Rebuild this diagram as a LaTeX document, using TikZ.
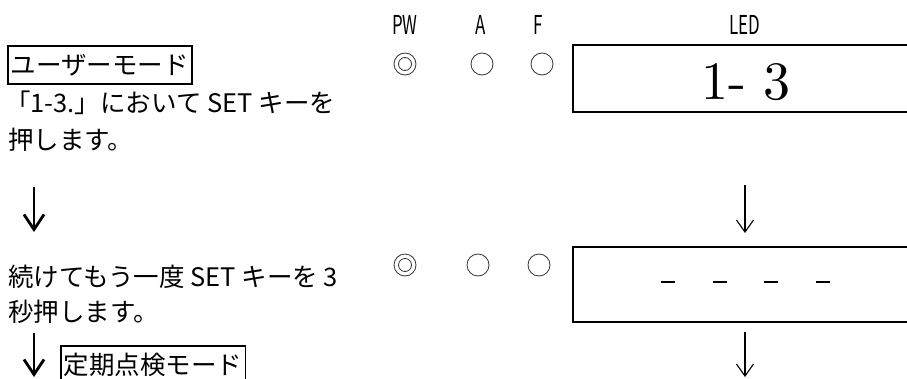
\documentclass[tikz,border=0pt]{standalone}
\usepackage{fontspec}
\setmainfont{Noto Sans CJK JP}
\newfontfamily\narrowfont[FakeStretch=0.65]{Noto Sans CJK JP}
\newfontfamily\ledfont{lmroman10-regular}[Extension=.otf]
\usetikzlibrary{arrows.meta}
\tikzset{
	txt/.style={anchor=west,inner sep=0pt,font=\fontsize{25.5}{30}\selectfont},
	modebox/.style={txt,draw,line width=1.8pt,inner xsep=3pt,minimum height=38pt},
	lbl/.style={inner sep=0pt,font=\narrowfont\fontsize{26}{30}\selectfont},
	lamp/.style={circle,draw=black!80,line width=0.8pt,minimum size=22pt,inner sep=0pt},
	ledbox/.style={draw,line width=2pt,anchor=north west,minimum width=380pt,inner sep=0pt},
	bigarrow/.style={line width=2.8pt,-{Straight Barb[length=15pt,width=20pt]}},
	thinarrow/.style={line width=1.1pt,-{Straight Barb[length=12pt,width=17pt]}}
}
\begin{document}
\begin{tikzpicture}[x=1pt,y=-1pt]
				\clip (0,0) rectangle (907,378);
				% headings
				\node[lbl] (hpw) at (405,25) {PW};
				\node[lbl] (ha) at (481,25) {A};
				\node[lbl] (hf) at (538,25) {F};
				\node[lbl] (hled) at (745,25) {LED};
				% step 1
				\node[modebox] (user) at (7,65) {ユーザーモード};
				\node[txt] (s1a) at (5,103) {「1-3.」において SET キーを};
				\node[txt] (s1b) at (8,140) {押します。};
				\node[lamp] (pw1) at (405,64) {};
				\node[lamp,minimum size=13pt] at (pw1) {};
				\node[lamp] (a1) at (482,64) {};
				\node[lamp] (f1) at (542,64) {};
				\node[ledbox,minimum height=67pt] (led1) at (572,44) {};
				\node[font=\ledfont\fontsize{54}{60}\selectfont] (v1) at (746,82) {1- 3};
				% arrows
				\coordinate (l1a) at (34,187); \coordinate (l1b) at (34,232);
				\coordinate (r1a) at (745,185); \coordinate (r1b) at (745,233);
				\draw[bigarrow] (l1a)--(l1b);
				\draw[thinarrow] (r1a)--(r1b);
				% step 2
				\node[txt] (s2a) at (8,277) {続けてもう一度 SET キーを 3};
				\node[txt] (s2b) at (8,312) {秒押します。};
				\node[lamp] (pw2) at (405,265) {};
				\node[lamp,minimum size=13pt] at (pw2) {};
				\node[lamp] (a2) at (478,265) {};
				\node[lamp] (f2) at (539,265) {};
				\node[ledbox,minimum height=75pt] (led2) at (572,246) {};
				\foreach \dx in {668,720,771,823} \draw[line width=2pt] (\dx-7,282)--(\dx+7,282);
				% arrows
				\coordinate (l2a) at (34,333); \coordinate (l2b) at (34,377);
				\coordinate (r2a) at (745,332); \coordinate (r2b) at (745,377);
				\draw[bigarrow] (l2a)--(l2b);
				\draw[thinarrow] (r2a)--(r2b);
				\node[modebox] (check) at (60,365) {定期点検モード};
			\end{tikzpicture}
\end{document}
